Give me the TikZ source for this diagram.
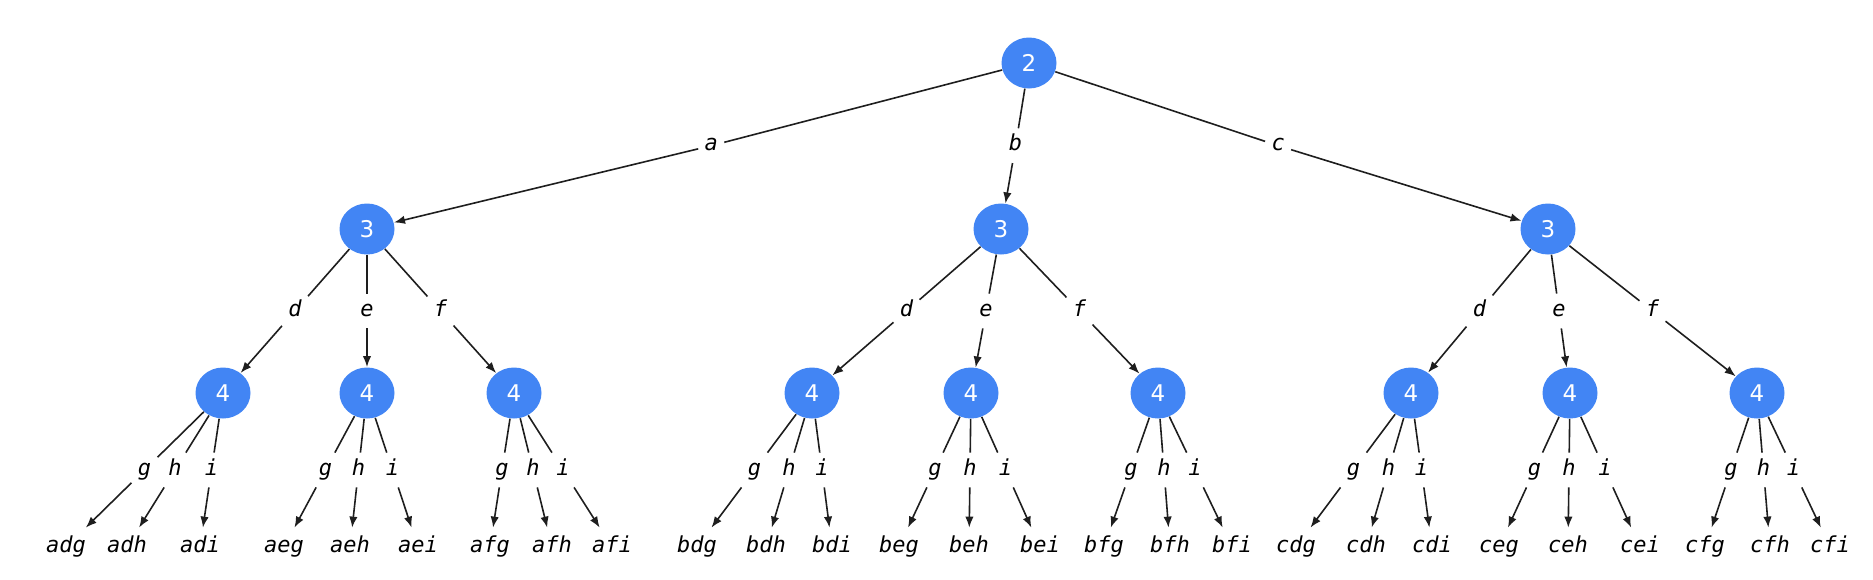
\documentclass[tikz,border=0pt]{standalone}
\usepackage{fontspec}
\setsansfont{DejaVu Sans}
\setmonofont{DejaVu Sans Mono}
\usepackage{tikz}
\usetikzlibrary{shapes,arrows.meta,calc}
\definecolor{nodeblue}{HTML}{4285F4}
\definecolor{edgegray}{HTML}{1E1E1E}

\begin{document}
\begin{tikzpicture}[x=0.5pt, y=-0.5pt]
    \tikzstyle{state} = [ellipse, fill=nodeblue, text=white, inner sep=0pt,
        font=\sffamily\fontsize{11.5}{12}\selectfont, minimum width=27.5pt, minimum height=25.5pt]
    \tikzstyle{leaf} = [font=\ttfamily\itshape\fontsize{11}{12}\selectfont,
        text height=8pt, text depth=3pt, inner sep=4pt]
    \tikzstyle{lbl} = [font=\ttfamily\itshape\fontsize{11}{12}\selectfont,
        text height=8pt, text depth=3pt, inner sep=3pt]
    \tikzstyle{line} = [draw=edgegray, line width=0.8pt]
    \tikzstyle{arrow} = [line, -{Latex[length=5.5pt, width=4.2pt]}]

    \useasboundingbox (0,0) rectangle (1873,579);

    % states
    \node [state] (root) at (1029,63) {2};
    \node [state] (na) at (367,229) {3};
    \node [state] (nb) at (1001,229) {3};
    \node [state] (nc) at (1548,229) {3};
    \node [state] (nad) at (223,393) {4};
    \node [state] (nae) at (367,393) {4};
    \node [state] (naf) at (514,393) {4};
    \node [state] (nbd) at (812,393) {4};
    \node [state] (nbe) at (971,393) {4};
    \node [state] (nbf) at (1158,393) {4};
    \node [state] (ncd) at (1411,393) {4};
    \node [state] (nce) at (1570,393) {4};
    \node [state] (ncf) at (1757,393) {4};

    % words
    \foreach \word/\x in {adg/66, adh/127, adi/200, aeg/284, aeh/350, aei/418,
        afg/490, afh/552, afi/612, bdg/697, bdh/766, bdi/832, beg/899, beh/969,
        bei/1040, bfg/1104, bfh/1170, bfi/1232, cdg/1296, cdh/1366, cdi/1432,
        ceg/1499, ceh/1568, cei/1640, cfg/1705, cfh/1770, cfi/1830}
        \node [leaf] (\word) at (\x,547) {\word};

    % labelled edges
    \foreach \u in {a,b,c} {
        \node [lbl] (ln\u) at ([yshift=-1.5pt]$(root)!0.48!(n\u)$) {\u};
        \path [line] (root) -- (ln\u);
        \path [arrow] (ln\u) -- (n\u);
        \foreach \v in {d,e,f} {
            \node [lbl] (ln\u\v) at ($(n\u)!0.5!(n\u\v)$) {\v};
            \path [line] (n\u) -- (ln\u\v);
            \path [arrow] (ln\u\v) -- (n\u\v);
            \foreach \w in {g,h,i} {
                \node [lbl] (l\u\v\w) at ($(n\u\v)!0.5!(\u\v\w)$) {\w};
                \path [line] (n\u\v) -- (l\u\v\w);
                \path [arrow] (l\u\v\w) -- (\u\v\w);
            }
        }
    }
\end{tikzpicture}
\end{document}
